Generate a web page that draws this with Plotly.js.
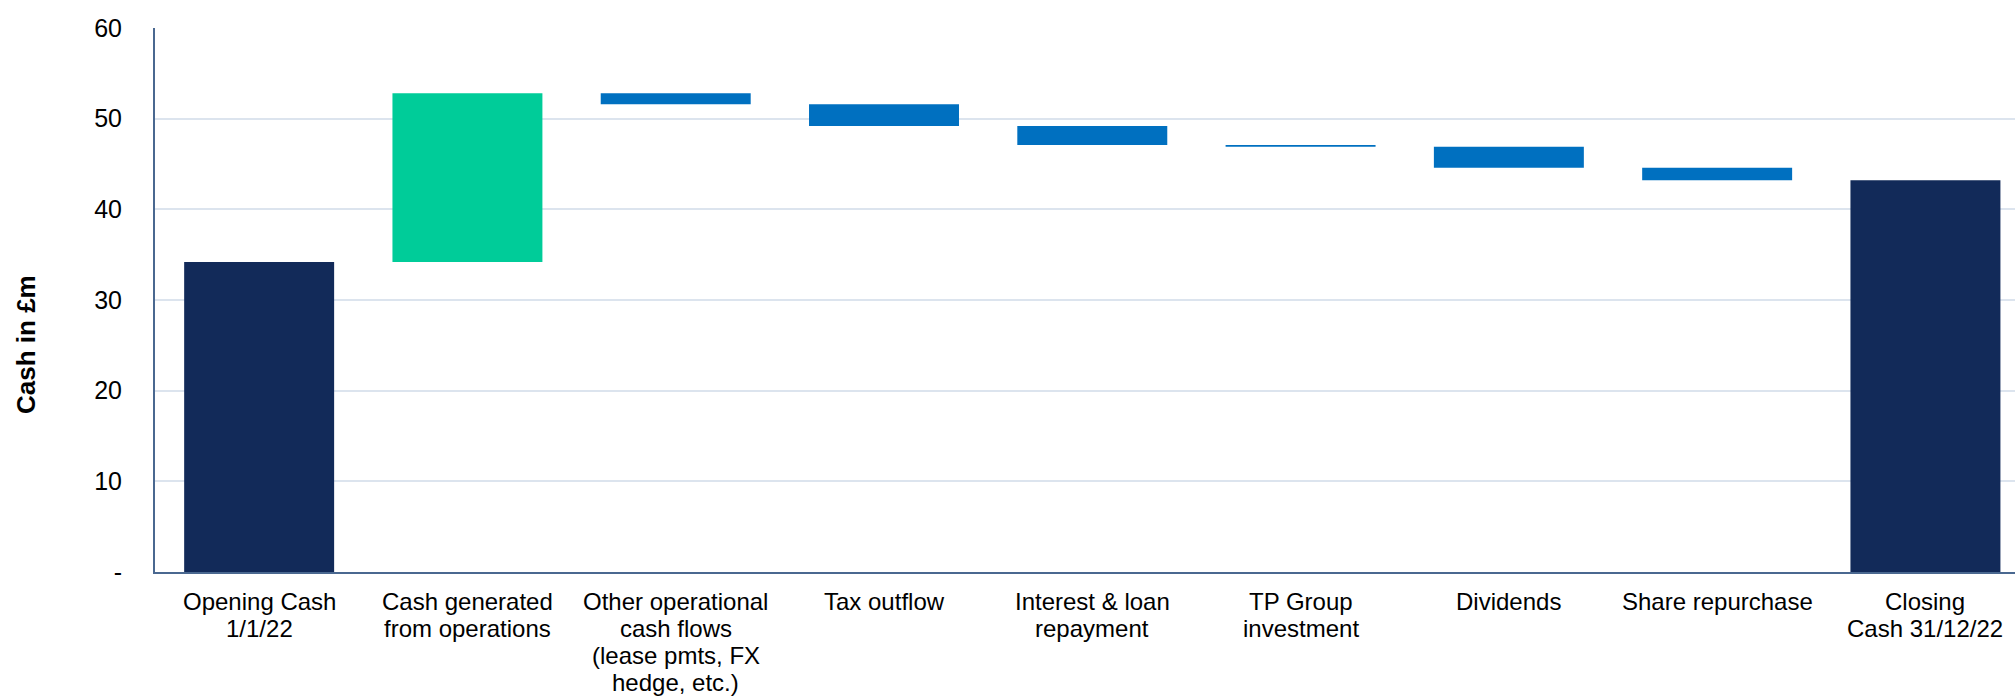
<!DOCTYPE html>
<html>
<head>
<meta charset="utf-8">
<script src="https://cdn.plot.ly/plotly-3.0.1.min.js"></script>
<style>html,body{margin:0;padding:0;background:#fff;}#chart{width:2015px;height:696px;}</style>
</head>
<body>
<div id="chart"></div>
<script>
const categories = [
  "Opening Cash 1/1/22",
  "Cash generated from operations",
  "Other operational cash flows (lease pmts, FX hedge, etc.)",
  "Tax outflow",
  "Interest & loan repayment",
  "TP Group investment",
  "Dividends",
  "Share repurchase",
  "Closing Cash 31/12/22"
];
const categoryLines = [
  ["Opening Cash", "1/1/22"],
  ["Cash generated", "from operations"],
  ["Other operational", "cash flows", "(lease pmts, FX", "hedge, etc.)"],
  ["Tax outflow"],
  ["Interest & loan", "repayment"],
  ["TP Group", "investment"],
  ["Dividends"],
  ["Share repurchase"],
  ["Closing", "Cash 31/12/22"]
];
const measures = ["absolute","relative","relative","relative","relative","relative","relative","relative","total"];
const values = [34.2, 18.6, -1.2, -2.4, -2.1, -0.2, -2.3, -1.4, 0];
const yTickVals = [0, 10, 20, 30, 40, 50, 60];
const yTickText = ["-", "10", "20", "30", "40", "50", "60"];
const yTitle = "Cash in £m";

const trace = {
  type: "waterfall",
  x: categories,
  y: values,
  measure: measures,
  textinfo: "none",
  connector: {visible: false},
  increasing: {marker: {color: "#00CC99"}},
  decreasing: {marker: {color: "#0070C0"}},
  totals: {marker: {color: "#122A59"}},
  hoverinfo: "x+y"
};

const annotations = [];
categoryLines.forEach((lines, ci) => {
  lines.forEach((ln, li) => {
    annotations.push({
      x: categories[ci], xref: "x",
      y: 0, yref: "y",
      yanchor: "middle", xanchor: "center",
      yshift: -29 - 27 * li,
      text: ln, showarrow: false,
      font: {family: "Liberation Sans, Arial, sans-serif", size: 24, color: "#000000"}
    });
  });
});
annotations.push({
  x: 0, xref: "paper", xshift: -129, xanchor: "center",
  y: (572 - 345) / 544, yref: "paper", yanchor: "middle",
  text: "<b>" + yTitle + "</b>", textangle: -90, showarrow: false,
  font: {family: "Liberation Sans, Arial, sans-serif", size: 26, color: "#000000"}
});

const layout = {
  width: 2015,
  height: 696,
  margin: {l: 155, r: 0, t: 28, b: 124},
  paper_bgcolor: "#ffffff",
  plot_bgcolor: "#ffffff",
  showlegend: false,
  waterfallgap: 0.28,
  font: {family: "Liberation Sans, Arial, sans-serif", color: "#000000", size: 24},
  xaxis: {
    type: "category",
    range: [-0.5, 8.43],
    showline: true,
    linecolor: "#4A6890",
    linewidth: 2,
    showgrid: false,
    showticklabels: false,
    ticks: ""
  },
  yaxis: {
    range: [0, 60],
    tickvals: yTickVals,
    ticktext: yTickText,
    showline: true,
    linecolor: "#4A6890",
    linewidth: 2,
    showgrid: true,
    gridcolor: "#DCE4EE",
    gridwidth: 2,
    zeroline: false,
    ticks: "outside",
    ticklen: 26,
    tickcolor: "rgba(0,0,0,0)",
    tickfont: {size: 25, color: "#000000"}
  },
  annotations: annotations
};

Plotly.newPlot("chart", [trace], layout, {displayModeBar: false, staticPlot: true});
</script>
</body>
</html>
